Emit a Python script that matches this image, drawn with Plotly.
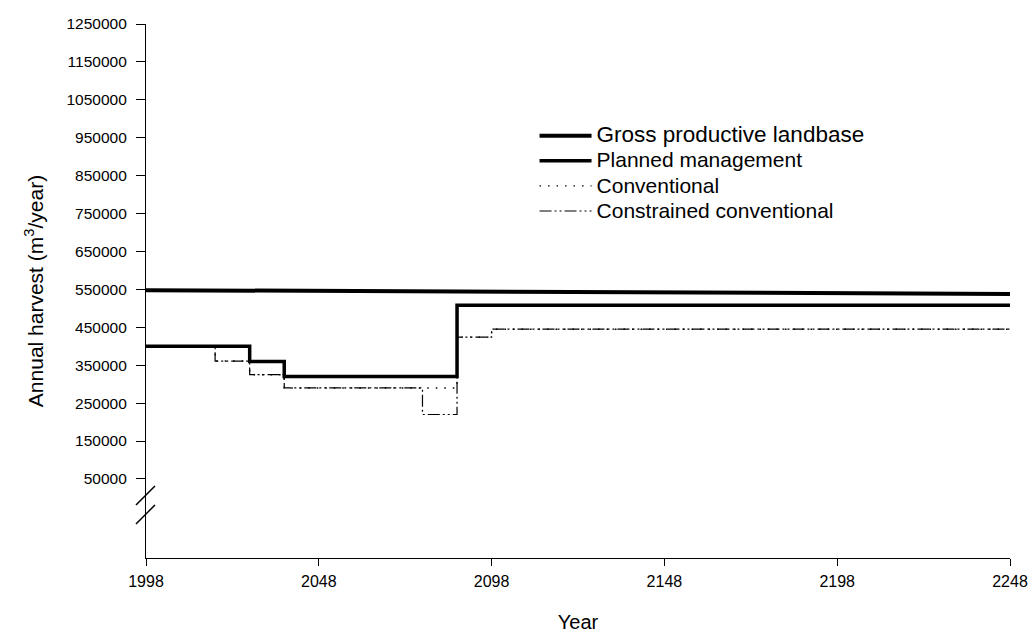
import plotly.graph_objects as go

# ---- data ----
gross_years = [1998, 2248]
gross_vals = [548000, 538000]

planned_years = [1998, 2028, 2038, 2088, 2248]
planned_vals = [400000, 360000, 320000, 508000, 508000]

conventional_years = [1998, 2018, 2028, 2038, 2088, 2098, 2248]
conventional_vals = [400000, 361000, 325000, 290000, 424000, 445000, 445000]

constrained_years = [1998, 2018, 2028, 2038, 2078, 2088, 2098, 2248]
constrained_vals = [400000, 361000, 325000, 290000, 220000, 424000, 445000, 445000]

x_ticks = [1998, 2048, 2098, 2148, 2198, 2248]
y_ticks = [50000, 150000, 250000, 350000, 450000, 550000, 650000, 750000,
           850000, 950000, 1050000, 1150000, 1250000]
y_tick_labels = [str(v) for v in y_ticks]

FONT = "Liberation Sans, Arial, sans-serif"

fig = go.Figure()

fig.add_trace(go.Scatter(
    x=constrained_years, y=constrained_vals, mode="lines", line_shape="hv",
    name="<span style='font-size:21px'>Constrained conventional</span>",
    line=dict(color="black", width=1.2, dash="12px,3px,2px,3px,2px,3px"),
    legendrank=4))
fig.add_trace(go.Scatter(
    x=conventional_years, y=conventional_vals, mode="lines", line_shape="hv",
    name="<span style='font-size:21px'>Conventional</span>",
    line=dict(color="black", width=1.4, dash="1.5px,7px"),
    legendrank=3))
fig.add_trace(go.Scatter(
    x=planned_years, y=planned_vals, mode="lines", line_shape="hv",
    name="<span style='font-size:21px'>Planned management</span>",
    line=dict(color="black", width=3.5),
    legendrank=2))
fig.add_trace(go.Scatter(
    x=gross_years, y=gross_vals, mode="lines",
    name="<span style='font-size:22.5px'>Gross productive landbase</span>",
    line=dict(color="black", width=4),
    legendrank=1))

# axis break marks (decoration)
for (x0, y0, x1, y1) in [(-0.0116, 0.0993, 0.0104, 0.1348),
                         (-0.0116, 0.0637, 0.0104, 0.0993)]:
    fig.add_shape(type="line", xref="paper", yref="paper",
                  x0=x0, y0=y0, x1=x1, y1=y1,
                  line=dict(color="black", width=1.5))

fig.update_layout(
    template="none",
    width=1031, height=633,
    margin=dict(l=146, r=21, t=24, b=75, autoexpand=False),
    paper_bgcolor="white", plot_bgcolor="white",
    font=dict(family=FONT, color="black"),
    showlegend=True,
    legend=dict(x=0.4497, y=0.8237, xanchor="left", yanchor="top",
                font=dict(size=17, family=FONT, color="black"),
                itemwidth=52, bgcolor="rgba(0,0,0,0)", borderwidth=0,
                traceorder="normal"),
    xaxis=dict(range=[1998, 2248], tickvals=x_ticks, ticks="outside",
               ticklen=7, tickwidth=1, tickcolor="black",
               showline=True, linecolor="black", linewidth=1.2,
               showgrid=False, zeroline=False, automargin=False,
               ticklabelstandoff=2,
               tickfont=dict(size=16, family=FONT),
               title=dict(text="Year", font=dict(size=20, family=FONT), standoff=32)),
    yaxis=dict(range=[-158500, 1250000], tickvals=y_ticks, ticktext=y_tick_labels,
               ticks="outside",
               ticklen=9, tickwidth=1, tickcolor="black",
               showline=True, linecolor="black", linewidth=1.2,
               showgrid=False, zeroline=False, ticklabelstandoff=6,
               automargin=False,
               tickfont=dict(size=15.5, family=FONT),
               title=dict(text="Annual harvest (m<sup>3</sup>/year)",
                          font=dict(size=21, family=FONT), standoff=17)),
)

fig.write_html("out.html")
